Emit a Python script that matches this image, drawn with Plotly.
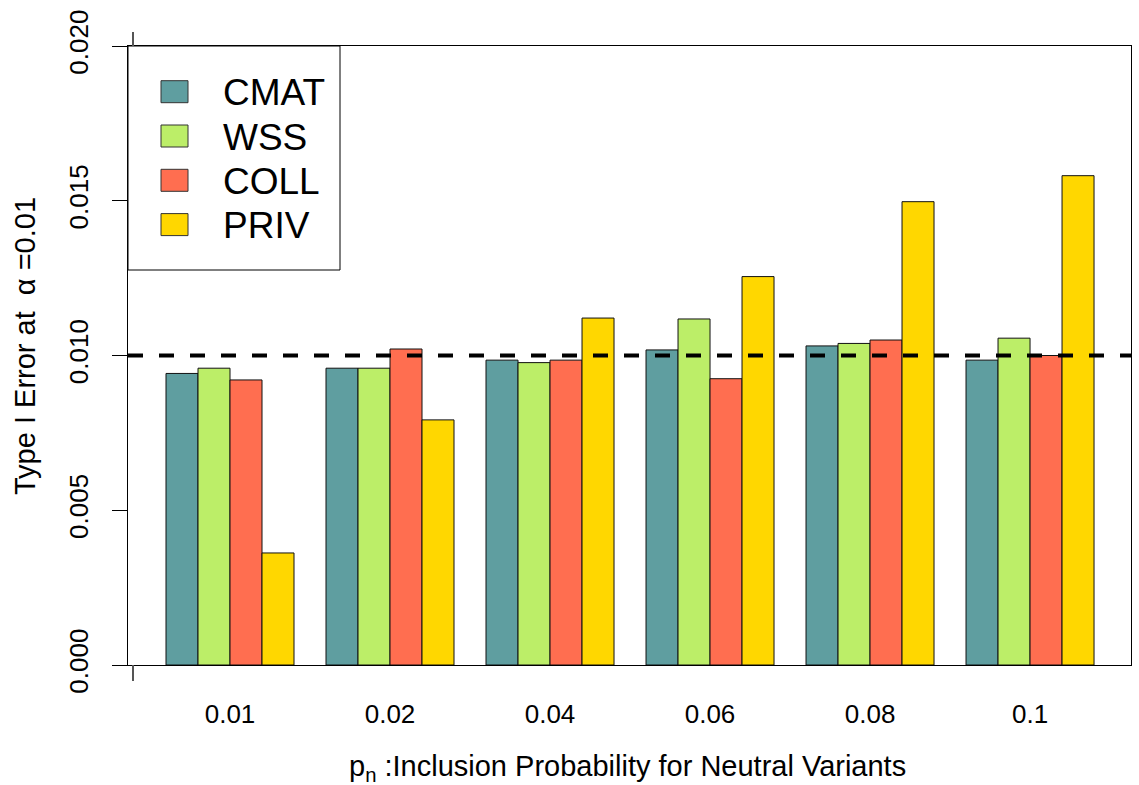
import plotly.graph_objects as go

categories = ["0.01", "0.02", "0.04", "0.06", "0.08", "0.1"]
series_names = ["CMAT", "WSS", "COLL", "PRIV"]
cmat = [0.00942, 0.00959, 0.00985, 0.01018, 0.01031, 0.00985]
wss = [0.00959, 0.00959, 0.00977, 0.01118, 0.01039, 0.01056]
coll = [0.00921, 0.01021, 0.00985, 0.00925, 0.01050, 0.01000]
priv = [0.00362, 0.00792, 0.01121, 0.01255, 0.01497, 0.01581]
series_values = [cmat, wss, coll, priv]
colors = ["#5F9EA0", "#BCEE68", "#FF6E50", "#FFD700"]
alpha_level = 0.01
y_tickvals = [0.0, 0.005, 0.010, 0.015, 0.020]
y_ticktext = ["0.000", "0.005", "0.010", "0.015", "0.020"]

FONT = "Liberation Sans, Arial, Helvetica, sans-serif"
W, H = 1139, 785
L, R, T, B = 128, 8, 46, 120
PW, PH = W - L - R, H - T - B


def px_x(px):
    return (px - L) / PW


def px_y(py):
    return (H - B - py) / PH


fig = go.Figure()
for name, vals, col in zip(series_names, series_values, colors):
    fig.add_trace(go.Bar(
        x=categories, y=vals, name=name,
        marker=dict(color=col, line=dict(color="#111111", width=1)),
        showlegend=False,
    ))

# reference line at alpha
fig.add_shape(type="line", xref="paper", yref="y", x0=0, x1=1,
              y0=alpha_level, y1=alpha_level,
              line=dict(color="black", width=4, dash="15px,16px"))

# legend (drawn to match size of reference)
fig.add_shape(type="rect", xref="paper", yref="paper",
              x0=px_x(128), x1=px_x(340), y0=px_y(270), y1=px_y(46),
              line=dict(color="black", width=1), fillcolor="white", layer="above")
row0, dy = 91.7, 44.3
for i, (name, col) in enumerate(zip(series_names, colors)):
    cy = row0 + i * dy
    fig.add_shape(type="rect", xref="paper", yref="paper",
                  x0=px_x(161), x1=px_x(188), y0=px_y(cy + 11), y1=px_y(cy - 11),
                  line=dict(color="#333333", width=1), fillcolor=col, layer="above")
    fig.add_annotation(xref="paper", yref="paper", x=px_x(221), y=px_y(cy + 1),
                       xanchor="left", yanchor="middle", text=name, showarrow=False,
                       font=dict(family=FONT, size=37, color="black"))

# small R axis ticks
fig.add_shape(type="line", xref="paper", yref="paper",
              x0=px_x(133), x1=px_x(133), y0=px_y(665), y1=px_y(681),
              line=dict(color="#555555", width=2))
fig.add_shape(type="line", xref="paper", yref="paper",
              x0=px_x(133), x1=px_x(133), y0=px_y(46), y1=px_y(32),
              line=dict(color="#555555", width=2))

# axis titles
fig.add_annotation(xref="paper", yref="paper", x=px_x(627), y=px_y(768),
                   xanchor="center", yanchor="middle", showarrow=False,
                   text="p<sub>n</sub> :Inclusion Probability for Neutral Variants",
                   font=dict(family=FONT, size=29, color="black"))
fig.add_annotation(xref="paper", yref="paper", x=px_x(25), y=px_y(346),
                   xanchor="center", yanchor="middle", showarrow=False, textangle=-90,
                   text="Type I Error at \u00a0\u03b1 =0.01",
                   font=dict(family=FONT, size=29, color="black"))

fig.update_layout(
    width=W, height=H,
    margin=dict(l=L, r=R, t=T, b=B, pad=0),
    paper_bgcolor="white", plot_bgcolor="white",
    barmode="group", bargap=0.2, bargroupgap=0,
    font=dict(family=FONT, color="black"),
    xaxis=dict(
        type="category", range=[-0.6375, 5.631],
        showline=True, linecolor="black", linewidth=1, mirror=True,
        ticks="", showgrid=False, zeroline=False,
        tickfont=dict(family=FONT, size=26, color="black"),
        ticklabelstandoff=26,
    ),
    yaxis=dict(
        range=[0, 0.02], tickvals=y_tickvals, ticktext=y_ticktext,
        tickangle=-90,
        showline=True, linecolor="black", linewidth=1, mirror=True,
        ticks="outside", ticklen=15, tickwidth=1, tickcolor="black",
        showgrid=False, zeroline=False,
        tickfont=dict(family=FONT, size=26, color="black"),
        ticklabelstandoff=14,
    ),
)

fig.write_html("out.html")
